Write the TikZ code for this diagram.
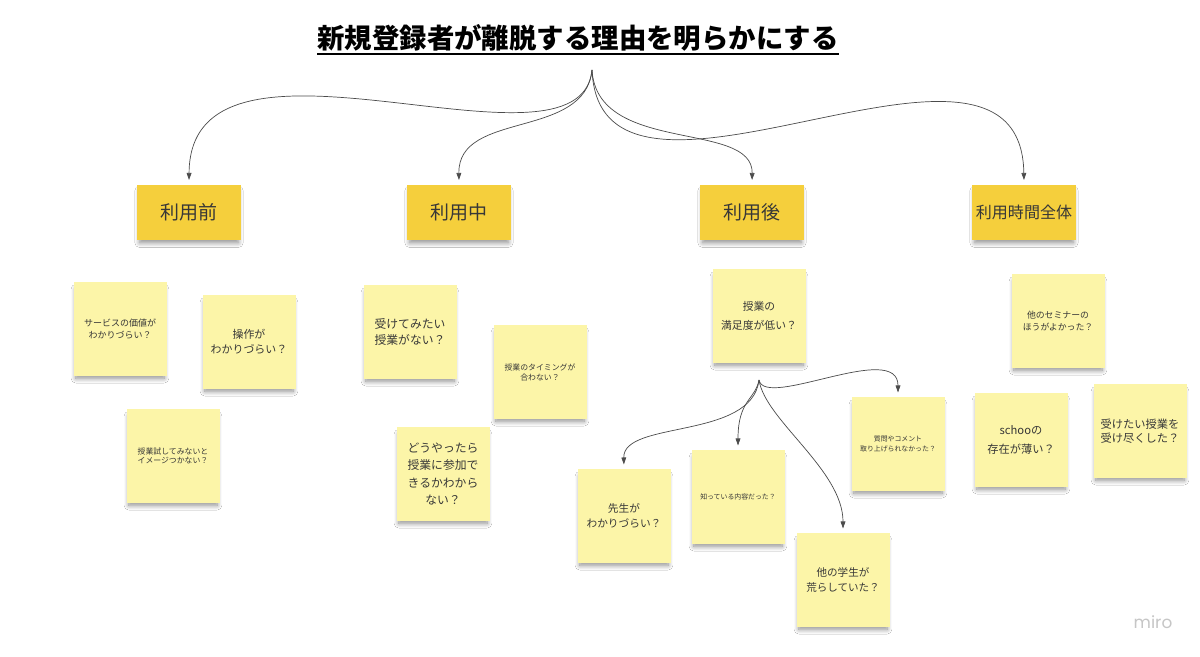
\documentclass[tikz,border=0pt]{standalone}
\usepackage{fontspec}
\usetikzlibrary{arrows.meta,shadows.blur}
\newfontfamily\jpfont{Noto Sans CJK JP}
\newfontfamily\mirofont{Poppins}
\newcommand{\jpsize}[2]{\jpfont\fontsize{#1}{#2}\selectfont}
\definecolor{catyellow}{RGB}{245,207,60}
\definecolor{stickyyellow}{RGB}{252,245,168}
\definecolor{inkgray}{RGB}{55,55,55}
\definecolor{linkgray}{RGB}{75,75,75}
\def\pix{0.025cm}

\begin{document}
\begin{tikzpicture}[x=0.025cm, y=-0.025cm,
  sticky/.style={fill=stickyyellow, text=inkgray, align=center, inner sep=0pt,
    minimum width=93*\pix, minimum height=94*\pix,
    blur shadow={shadow xshift=0pt, shadow yshift=-3.5pt, shadow scale=0.95,
      shadow blur radius=3.5pt, shadow opacity=45, shadow blur steps=10}},
  catbox/.style={sticky, fill=catyellow, minimum width=104*\pix, minimum height=55*\pix},
  link/.style={linkgray, line width=0.5pt, -{Triangle[length=5pt,width=3.4pt]}, shorten >=3pt}]

% Fix the page size
\useasboundingbox[fill=white] (0,0) rectangle (1200,656);

% Draw the title
\node[inner sep=0pt, font=\jpfont\bfseries\fontsize{19.5}{23}\selectfont] (title) at (578,38) {新規登録者が離脱する理由を明らかにする};
\draw[line width=1.5pt] ([yshift=-1.5pt]title.south west) -- ([yshift=-1.5pt]title.south east);
\coordinate (top) at (592,70);

% Draw the four phases
\node[catbox, font=\jpsize{13.5}{16}] (before) at (189,212) {利用前};
\node[catbox, font=\jpsize{13.5}{16}] (during) at (459,212) {利用中};
\node[catbox, font=\jpsize{13.5}{16}] (after) at (752,212) {利用後};
\node[catbox, font=\jpsize{11.4}{14}] (whole) at (1024,212) {利用時間全体};

% Connect the title to the phases
\draw[link] (top) .. controls (580,190) and (190,0) .. (before.north);
\draw[link] (top) .. controls (585,140) and (458,110) .. (during.north);
\draw[link] (top) .. controls (597,155) and (753,120) .. (after.north);
\draw[link] (top) .. controls (600,260) and (1021,-20) .. (whole.north);

% Notes before use
\node[sticky, font=\jpsize{6.4}{8.8}] (value) at (120,329) {サービスの価値が\\わかりづらい？};
\node[sticky, font=\jpsize{7.8}{10.4}] (usage) at (249,342) {操作が\\わかりづらい？};
\node[sticky, font=\jpsize{5.6}{6.9}] (trial) at (173,456) {授業試してみないと\\イメージつかない？};

% Notes during use
\node[sticky, font=\jpsize{8.4}{11.9}] (nocourse) at (410,332) {受けてみたい\\授業がない？};
\node[sticky, font=\jpsize{5.6}{7.1}] (timing) at (540,372) {授業のタイミングが\\合わない？};
\node[sticky, font=\jpsize{8.4}{12.5}] (howto) at (443,474) {どうやったら\\授業に参加で\\きるかわから\\ない？};

% Notes after use
\node[sticky, font=\jpsize{7.7}{13.3}] (satisfy) at (759,316) {授業の\\満足度が低い？};
\coordinate (branch) at (759,380);
\node[sticky, font=\jpsize{7.6}{10.7}] (teacher) at (624,516) {先生が\\わかりづらい？};
\node[sticky, font=\jpsize{4.9}{7.1}] (known) at (738,497) {知っている内容だった？};
\node[sticky, font=\jpsize{7.5}{10.7}] (students) at (843,580) {他の学生が\\荒らしていた？};
\node[sticky, font=\jpsize{4.9}{7.1}] (questions) at (898,444) {質問やコメント\\取り上げられなかった？};

\draw[link] (branch) .. controls (752,440) and (623,420) .. (teacher.north);
\draw[link] (branch) .. controls (755,400) and (738,400) .. (known.north);
\draw[link] (branch) .. controls (765,420) and (843,470) .. (students.north);
\draw[link] (branch) .. controls (765,410) and (898,340) .. (questions.north);

% Notes on the whole time
\node[sticky, font=\jpsize{6.3}{8.8}] (seminar) at (1058,321) {他のセミナーの\\ほうがよかった？};
\node[sticky, font=\jpsize{8}{13}] (schoo) at (1021,440) {schooの\\存在が薄い？};
\node[sticky, font=\jpsize{8}{10}] (doneall) at (1140,431) {受けたい授業を\\受け尽くした？};

% Board mark
\node[text=gray!45, font=\mirofont\fontsize{12}{14}\selectfont] (miro) at (1153,622) {miro};

\end{tikzpicture}
\end{document}
